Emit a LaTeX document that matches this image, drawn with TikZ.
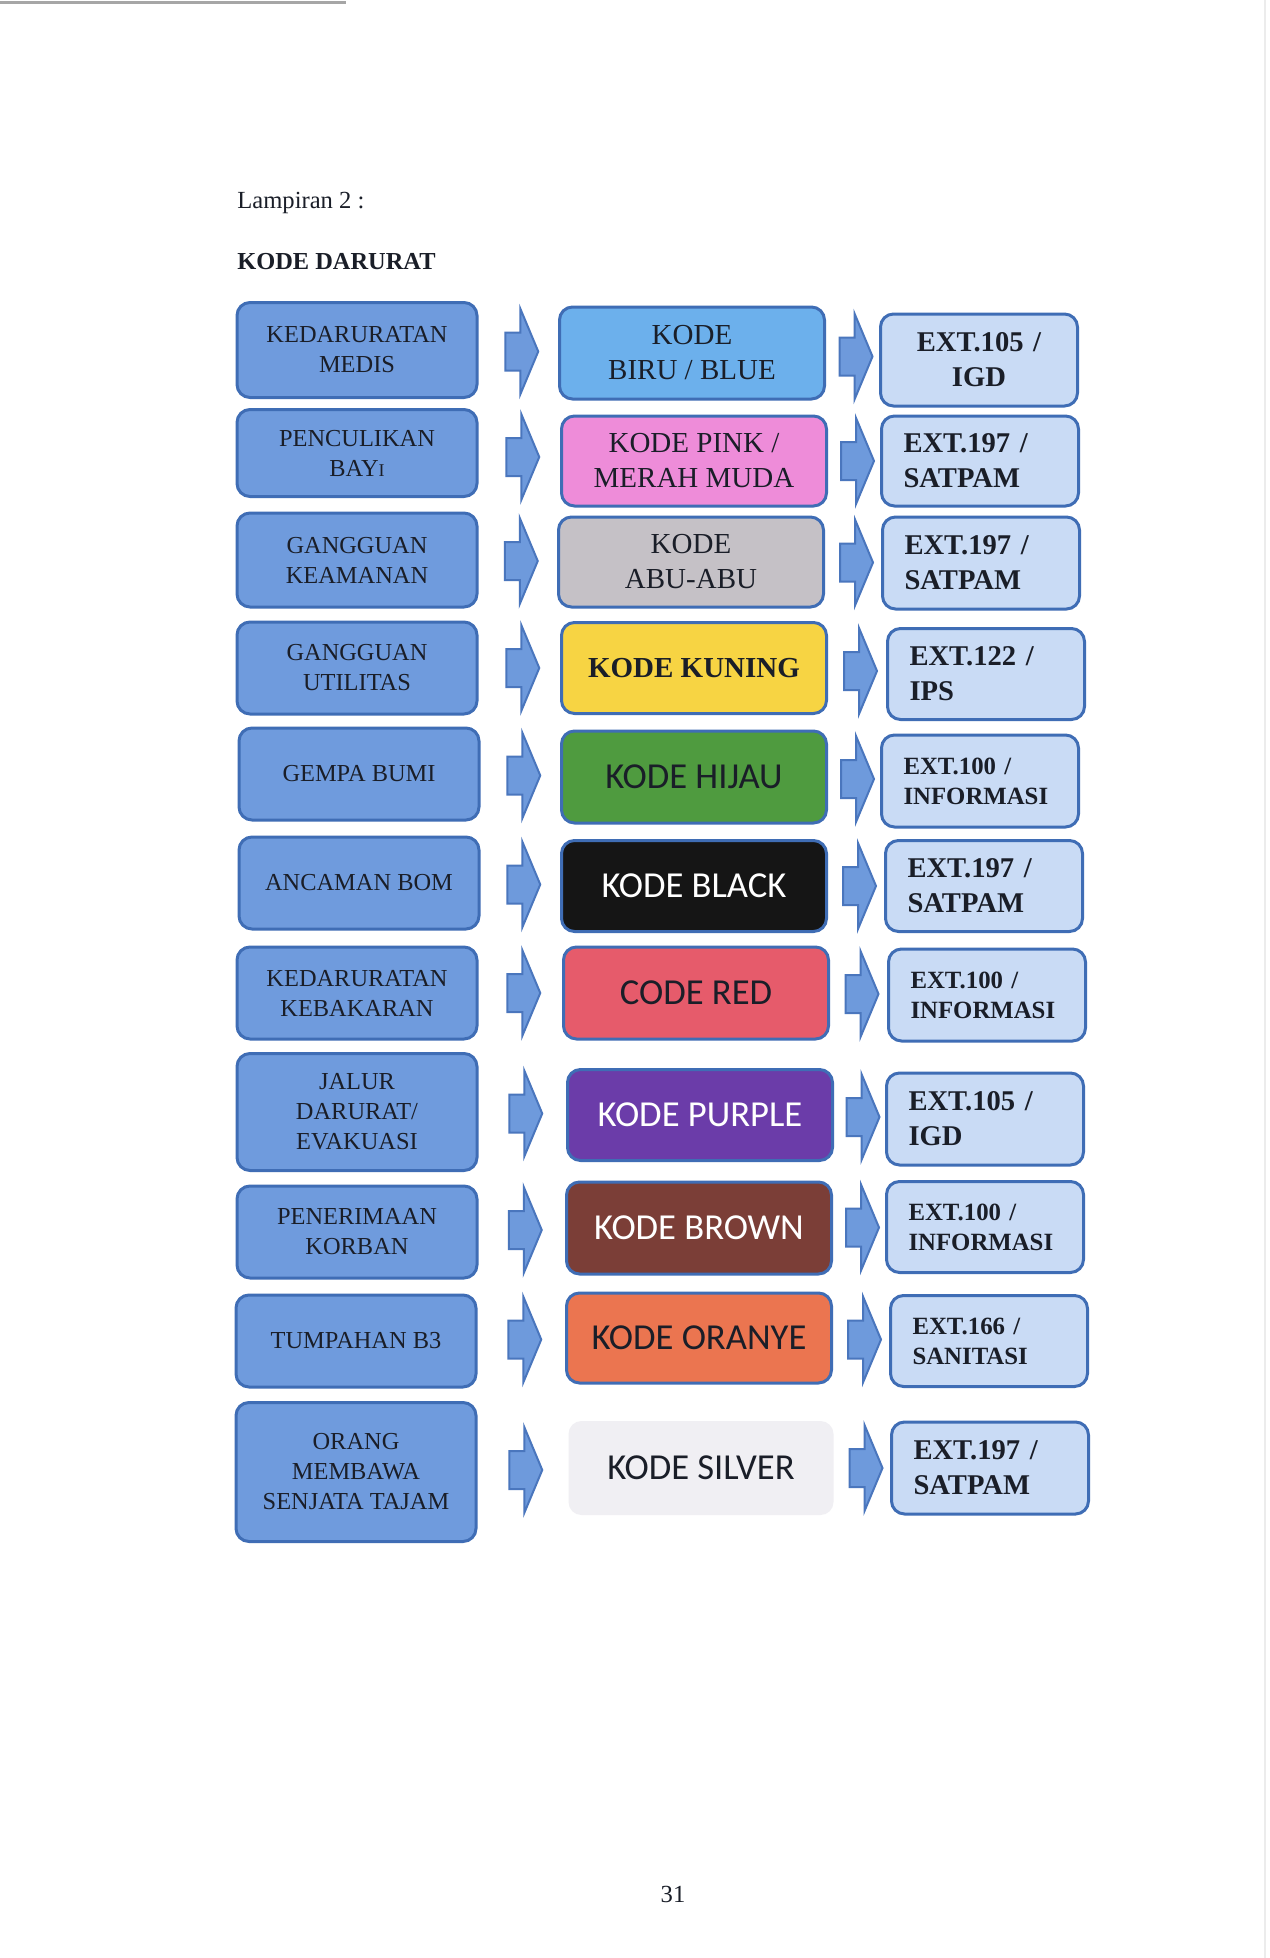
\documentclass[tikz,border=0pt]{standalone}
\usepackage{fontspec}
\setmainfont{Liberation Serif}
\newfontfamily\calib{Carlito}
\usetikzlibrary{calc}
\definecolor{lfill}{HTML}{6F9BDD}
\definecolor{bdr}{HTML}{3F6DB5}
\definecolor{afill}{HTML}{6E9ADC}
\definecolor{abdr}{HTML}{4A76BD}
\definecolor{rfill}{HTML}{C9DBF5}
\definecolor{cblue}{HTML}{6CB0EC}
\definecolor{cpink}{HTML}{EE8CD9}
\definecolor{cgrey}{HTML}{C5C1C6}
\definecolor{cyellow}{HTML}{F7D443}
\definecolor{cgreen}{HTML}{4F9B3F}
\definecolor{cblack}{HTML}{151515}
\definecolor{cred}{HTML}{E65B6B}
\definecolor{cpurple}{HTML}{6B3CA9}
\definecolor{cbrown}{HTML}{7B3E37}
\definecolor{corange}{HTML}{EB7550}
\definecolor{csilver}{HTML}{F0EFF3}
\definecolor{ink}{HTML}{1A1E28}
\newcommand\myfL{\fontsize{12.2}{15}\selectfont}
\newcommand\myfM{\fontsize{14.5}{17.5}\selectfont}
\newcommand\myfC{\calib\fontsize{18.3}{22}\selectfont}
\newcommand\myfRB{\bfseries\fontsize{14.3}{17.5}\selectfont}
\newcommand\myfRS{\bfseries\fontsize{12.4}{15}\selectfont}
\tikzset{
  lbox/.style={draw=bdr, fill=lfill, line width=1.5pt, rounded corners=6.5pt,
    minimum width=120pt, align=center, text=ink, font=\myfL, inner sep=0pt},
  mbox/.style={draw=bdr, fill=#1, line width=1.5pt, rounded corners=6.5pt,
    minimum width=132.5pt, align=center, text=ink, inner sep=0pt},
  rbox/.style={draw=bdr, fill=rfill, line width=1.5pt, rounded corners=6.5pt,
    text width=76.5pt, inner xsep=11pt, inner ysep=0pt, align=left, text=ink},
  arr/.style={draw=abdr, fill=afill, line width=1pt, line join=miter},
  plain/.style={inner sep=0pt, text=ink},
}
\begin{document}
\begin{tikzpicture}[x=0.5pt,y=-0.5pt]
\useasboundingbox (0,0) rectangle (1269,1958);
\fill[white] (0,0) rectangle (1269,1958);
\draw[gray!70, line width=1.5pt] (0,3) -- (346,3);
\draw[gray!15, line width=1pt] (1265,0) -- (1265,1958);

\node[plain, anchor=base west, font=\fontsize{12.3}{15}\selectfont] (lamp) at (237,209) {Lampiran 2 :};
\node[plain, anchor=base west, font=\bfseries\fontsize{12.2}{15}\selectfont] (title) at (237,270) {KODE DARURAT};
\node[plain, anchor=base, font=\fontsize{12.3}{15}\selectfont] (pg) at (673,1902) {31};

% row 1
\node[lbox, minimum height=47.5pt] (l1) at (357,350) {KEDARURATAN\\MEDIS};
\node[mbox=cblue, minimum height=46pt, font=\myfM] (m1) at (692,353) {KODE\\BIRU / BLUE};
\node[rbox, minimum height=46pt, font=\myfRB, align=center] (r1) at (979,360) {EXT.105 /\\IGD};
% row 2
\node[lbox, minimum height=43.5pt] (l2) at (357,453) {PENCULIKAN\\BAY{\fontsize{9}{9}\selectfont I}};
\node[mbox=cpink, minimum height=45pt, font=\myfM] (m2) at (694,461) {KODE PINK /\\MERAH MUDA};
\node[rbox, minimum height=45pt, font=\myfRB] (r2) at (980,461) {EXT.197 /\\SATPAM};
% row 3
\node[lbox, minimum height=47pt] (l3) at (357,560) {GANGGUAN\\KEAMANAN};
\node[mbox=cgrey, minimum height=45pt, font=\myfM] (m3) at (691,562) {KODE\\ABU-ABU};
\node[rbox, minimum height=46pt, font=\myfRB] (r3) at (981,563) {EXT.197 /\\SATPAM};
% row 4
\node[lbox, minimum height=46pt] (l4) at (357,668) {GANGGUAN\\UTILITAS};
\node[mbox=cyellow, minimum height=45.5pt, font=\myfM\bfseries] (m4) at (694,668) {KODE KUNING};
\node[rbox, minimum height=45.5pt, font=\myfRB] (r4) at (986,674) {EXT.122 /\\IPS};
% row 5
\node[lbox, minimum height=46pt] (l5) at (359,774) {GEMPA BUMI};
\node[mbox=cgreen, minimum height=46pt, font=\myfC] (m5) at (694,777) {KODE HIJAU};
\node[rbox, minimum height=46pt, font=\myfRS] (r5) at (980,781) {EXT.100 /\\INFORMASI};
% row 6
\node[lbox, minimum height=46pt] (l6) at (359,883) {ANCAMAN BOM};
\node[mbox=cblack, minimum height=45.5pt, font=\myfC, text=white] (m6) at (694,886) {KODE BLACK};
\node[rbox, minimum height=45.5pt, font=\myfRB] (r6) at (984,886) {EXT.197 /\\SATPAM};
% row 7
\node[lbox, minimum height=46pt] (l7) at (357,993) {KEDARURATAN\\KEBAKARAN};
\node[mbox=cred, minimum height=46pt, font=\myfC] (m7) at (696,993) {CODE RED};
\node[rbox, minimum height=46pt, font=\myfRS] (r7) at (987,995) {EXT.100 /\\INFORMASI};
% row 8
\node[lbox, minimum height=58.5pt] (l8) at (357,1112) {JALUR\\DARURAT/\\EVAKUASI};
\node[mbox=cpurple, minimum height=45.5pt, font=\myfC, text=white] (m8) at (700,1115) {KODE PURPLE};
\node[rbox, minimum height=46pt, font=\myfRB] (r8) at (985,1119) {EXT.105 /\\IGD};
% row 9
\node[lbox, minimum height=46pt] (l9) at (357,1232) {PENERIMAAN\\KORBAN};
\node[mbox=cbrown, minimum height=46pt, font=\myfC, text=white] (m9) at (699,1228) {KODE BROWN};
\node[rbox, minimum height=45.5pt, font=\myfRS] (r9) at (985,1227) {EXT.100 /\\INFORMASI};
% row 10
\node[lbox, minimum height=46pt] (l10) at (356,1341) {TUMPAHAN B3};
\node[mbox=corange, minimum height=45pt, font=\myfC] (m10) at (699,1338) {KODE ORANYE};
\node[rbox, minimum height=45.5pt, font=\myfRS] (r10) at (989,1341) {EXT.166 /\\SANITASI};
% row 11
\node[lbox, minimum height=69.5pt] (l11) at (356,1472) {ORANG\\MEMBAWA\\SENJATA TAJAM};
\node[mbox=csilver, draw=none, minimum height=47pt, font=\myfC] (m11) at (701,1468) {KODE SILVER};
\node[rbox, minimum height=46pt, font=\myfRB] (r11) at (990,1468) {EXT.197 /\\SATPAM};

% block arrows
\foreach \i in {1,...,11}{
  \coordinate (a\i) at ($(l\i.east)!0.5!(m\i.west)$);
  \coordinate (b\i) at ($(m\i.east)!0.5!(r\i.west)$);
  \foreach \c in {a\i,b\i}{
    \draw[arr] ([shift={(-13,-19)}]\c) -- ([shift={(2,-19)}]\c) -- ([shift={(2,-43)}]\c)
      -- ([shift={(20,0)}]\c) -- ([shift={(2,43)}]\c) -- ([shift={(2,19)}]\c)
      -- ([shift={(-13,19)}]\c) -- cycle;
  }
}
\end{tikzpicture}
\end{document}
